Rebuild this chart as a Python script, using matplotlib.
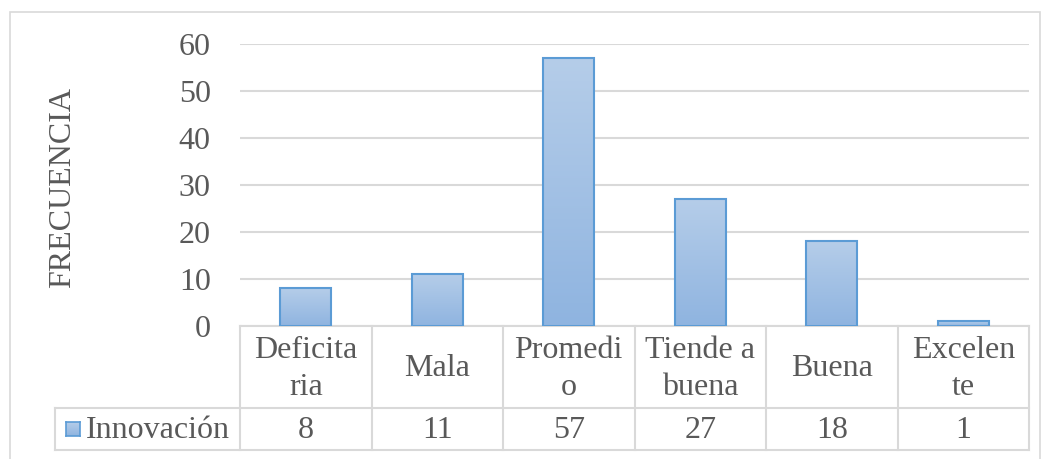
import numpy as np
import matplotlib.pyplot as plt
from matplotlib.patches import Rectangle
from matplotlib.transforms import blended_transform_factory
from matplotlib.colors import LinearSegmentedColormap

categories = ["Deficita\nria", "Mala", "Promedi\no", "Tiende a\nbuena", "Buena", "Excelen\nte"]
values = [8, 11, 57, 27, 18, 1]
series_name = "Innovación"
yticks = [0, 10, 20, 30, 40, 50, 60]

W, H = 1047, 459
text_col = "#595959"
grid_col = "#d9d9d9"
edge_col = "#5b9bd5"
grad = LinearSegmentedColormap.from_list("g", ["#8fb4e0", "#b5cde9"])
fs = 23

plt.rcParams["font.family"] = ["Liberation Serif", "DejaVu Serif"]

fig = plt.figure(figsize=(W / 100, H / 100), dpi=100)


def fx(px):
    return px / W


def fy(py):
    return 1 - py / H


# outer chart frame
fig.patches.append(Rectangle((fx(10), fy(470)), fx(1040) - fx(10), fy(12) - fy(470),
                             transform=fig.transFigure, fill=False, ec=grid_col, lw=1.2))

left, right, top, bottom = 240, 1029, 44, 326
ax = fig.add_axes([fx(left), fy(bottom), fx(right) - fx(left), fy(top) - fy(bottom)])
for s in ax.spines.values():
    s.set_visible(False)
ax.set_yticks(yticks)
ax.set_xticks([])
ax.tick_params(axis="y", length=0, labelsize=fs, labelcolor=text_col, pad=21)
ax.grid(axis="y", color=grid_col, lw=1.5)
ax.set_axisbelow(True)

x = np.arange(len(categories))
bw = 0.39
bars = ax.bar(x, values, width=bw, color="none", edgecolor=edge_col, lw=1.5, zorder=3)
g = np.linspace(0, 1, 100).reshape(-1, 1)
for b in bars:
    im = ax.imshow(g, cmap=grad, origin="lower", aspect="auto", zorder=2,
                   extent=[b.get_x(), b.get_x() + b.get_width(), 0, b.get_height()])
    im.set_clip_path(b)
ax.set_xlim(-0.5, len(categories) - 0.5)
ax.set_ylim(0, 60)

fig.text(fx(63), fy(187), "FRECUENCIA", rotation=90, ha="center", va="center",
         fontsize=fs, color=text_col)

# data table below the plot
tr = blended_transform_factory(ax.transData, fig.transFigure)
row1, row2, row3 = 326, 408, 450
lk = dict(color=grid_col, lw=1.5, clip_on=False)
ax.plot([-0.5, len(categories) - 0.5], [fy(row1)] * 2, transform=tr, **lk)
for yy in (row2, row3):
    fig.lines.append(plt.Line2D([fx(55), fx(right)], [fy(yy)] * 2, transform=fig.transFigure,
                                color=grid_col, lw=1.5))
fig.lines.append(plt.Line2D([fx(55)] * 2, [fy(row2), fy(row3)], transform=fig.transFigure,
                            color=grid_col, lw=1.5))
for i in range(len(categories) + 1):
    ax.plot([i - 0.5] * 2, [fy(row1), fy(row3)], transform=tr, **lk)

for i, (c, v) in enumerate(zip(categories, values)):
    ax.text(i, fy(369), c, transform=tr, ha="center", va="center",
            fontsize=fs, color=text_col, linespacing=1.32)
    ax.text(i, fy(431), str(v), transform=tr, ha="center", va="center",
            fontsize=fs, color=text_col)

# legend key in table
key = fig.add_axes([fx(66), fy(436), fx(80) - fx(66), fy(422) - fy(436)])
key.imshow(g, cmap=grad, origin="lower", aspect="auto")
key.set_xticks([])
key.set_yticks([])
for s in key.spines.values():
    s.set_color(edge_col)
    s.set_linewidth(1.2)
fig.text(fx(86), fy(431), series_name, ha="left", va="center",
         fontsize=fs, color=text_col)

fig.savefig("out.png", dpi=100)
